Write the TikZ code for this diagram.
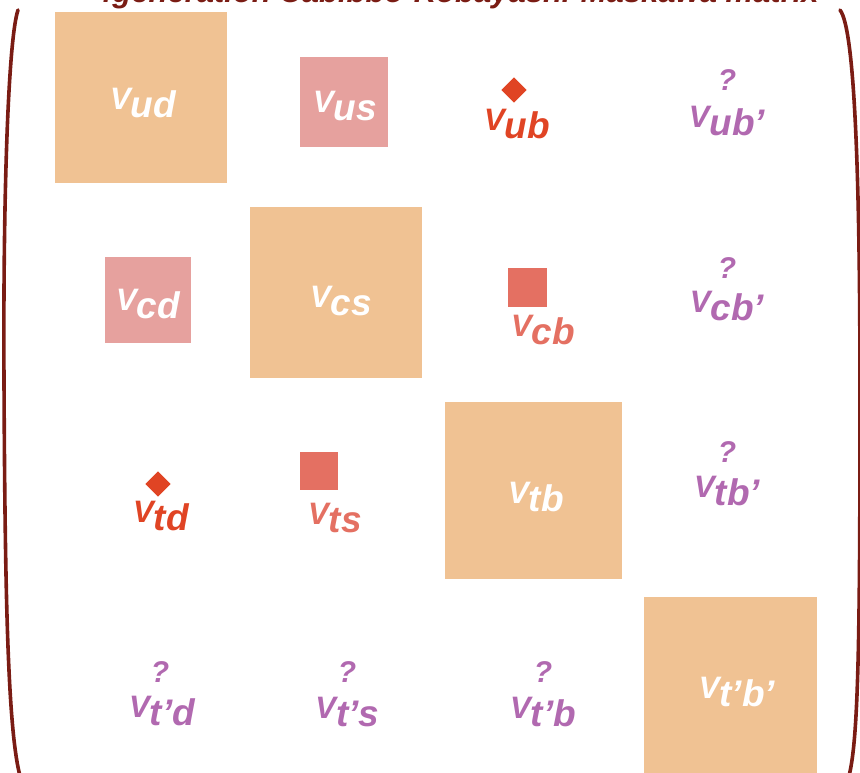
\documentclass[tikz,border=0pt]{standalone}
\usepackage{fontspec}
\setmainfont{Liberation Sans}
\definecolor{sqor}{HTML}{F0C293}
\definecolor{sqpk}{HTML}{E6A19E}
\definecolor{sqrd}{HTML}{E47062}
\definecolor{dmrd}{HTML}{E04424}
\definecolor{purp}{HTML}{B169B0}
\definecolor{parcol}{HTML}{7A1C14}
\newcommand\ckmlab[1]{{\fontsize{31}{33}\selectfont V}\raisebox{-8pt}{\fontsize{37}{39}\selectfont #1}}
\tikzset{
  box/.style={fill=#1, draw=none, inner sep=0pt},
  lab/.style={inner sep=0pt, text=#1, font=\bfseries\itshape},
  qm/.style={inner sep=0pt, text=purp, font=\fontsize{30}{32}\selectfont\bfseries\itshape},
  dmd/.style={fill=dmrd, draw=none, inner sep=0pt, minimum width=18pt, minimum height=18pt, rotate=45},
  parline/.style={draw=parcol, line width=3.6pt, line cap=round}
}
\begin{document}
\begin{tikzpicture}[x=1pt,y=-1pt]
\useasboundingbox (0,0) rectangle (860,772);
\clip (0,0) rectangle (860,772);
% title (cut off at top)
\node[anchor=base west, inner sep=0pt, text=parcol, font=\fontsize{31}{33}\selectfont\bfseries\itshape] (title) at (95,2) {4generation Cabibbo-Kobayashi-Maskawa matrix};
% parentheses
\coordinate (lt) at (18,10);
\coordinate (lm) at (4,380);
\coordinate (lb) at (20,776);
\coordinate (rt) at (840,10);
\coordinate (rm) at (860,400);
\coordinate (rb) at (849,776);
\draw[parline] (lt) .. controls (8,40) and (3,200) .. (lm) .. controls (5,600) and (8,730) .. (lb);
\draw[parline] (rt) .. controls (856,30) and (860,200) .. (rm) .. controls (860,650) and (858,740) .. (rb);
% row 1
\node[box=sqor, minimum width=172pt, minimum height=171pt] (ud) at (141,97.5) {};
\node[lab=white] (udl) at (143,103) {\ckmlab{ud}};
\node[box=sqpk, minimum width=88pt, minimum height=90pt] (us) at (344,102) {};
\node[lab=white] (usl) at (345,106) {\ckmlab{us}};
\node[dmd] (ub) at (514,90) {};
\node[lab=dmrd] (ubl) at (517,124) {\ckmlab{ub}};
\node[qm] (ubpq) at (727,80) {?};
\node[lab=purp] (ubp) at (727,121) {\ckmlab{ub’}};
% row 2
\node[box=sqpk, minimum width=86pt, minimum height=86pt] (cd) at (148,300) {};
\node[lab=white] (cdl) at (148,304) {\ckmlab{cd}};
\node[box=sqor, minimum width=172pt, minimum height=171pt] (cs) at (336,292.5) {};
\node[lab=white] (csl) at (341,301) {\ckmlab{cs}};
\node[box=sqrd, minimum width=39pt, minimum height=39pt] (cb) at (527.5,287.5) {};
\node[lab=sqrd] (cbl) at (543,330) {\ckmlab{cb}};
\node[qm] (cbpq) at (727,268) {?};
\node[lab=purp] (cbp) at (727,306) {\ckmlab{cb’}};
% row 3
\node[dmd] (td) at (158,484) {};
\node[lab=dmrd] (tdl) at (161,516) {\ckmlab{td}};
\node[box=sqrd, minimum width=38pt, minimum height=38pt] (ts) at (319,471) {};
\node[lab=sqrd] (tsl) at (335,518) {\ckmlab{ts}};
\node[box=sqor, minimum width=177pt, minimum height=177pt] (tb) at (533.5,490.5) {};
\node[lab=white] (tbl) at (536,497) {\ckmlab{tb}};
\node[qm] (tbpq) at (727,452) {?};
\node[lab=purp] (tbp) at (727,491) {\ckmlab{tb’}};
% row 4
\node[qm] (tpdq) at (160,672) {?};
\node[lab=purp] (tpd) at (162,711) {\ckmlab{t’d}};
\node[qm] (tpsq) at (347,672) {?};
\node[lab=purp] (tps) at (347,712) {\ckmlab{t’s}};
\node[qm] (tpbq) at (543,672) {?};
\node[lab=purp] (tpb) at (543,712) {\ckmlab{t’b}};
\node[box=sqor, minimum width=173pt, minimum height=190pt] (tpbp) at (730.5,692) {};
\node[lab=white] (tpbpl) at (737,692) {\ckmlab{t’b’}};
\end{tikzpicture}
\end{document}
